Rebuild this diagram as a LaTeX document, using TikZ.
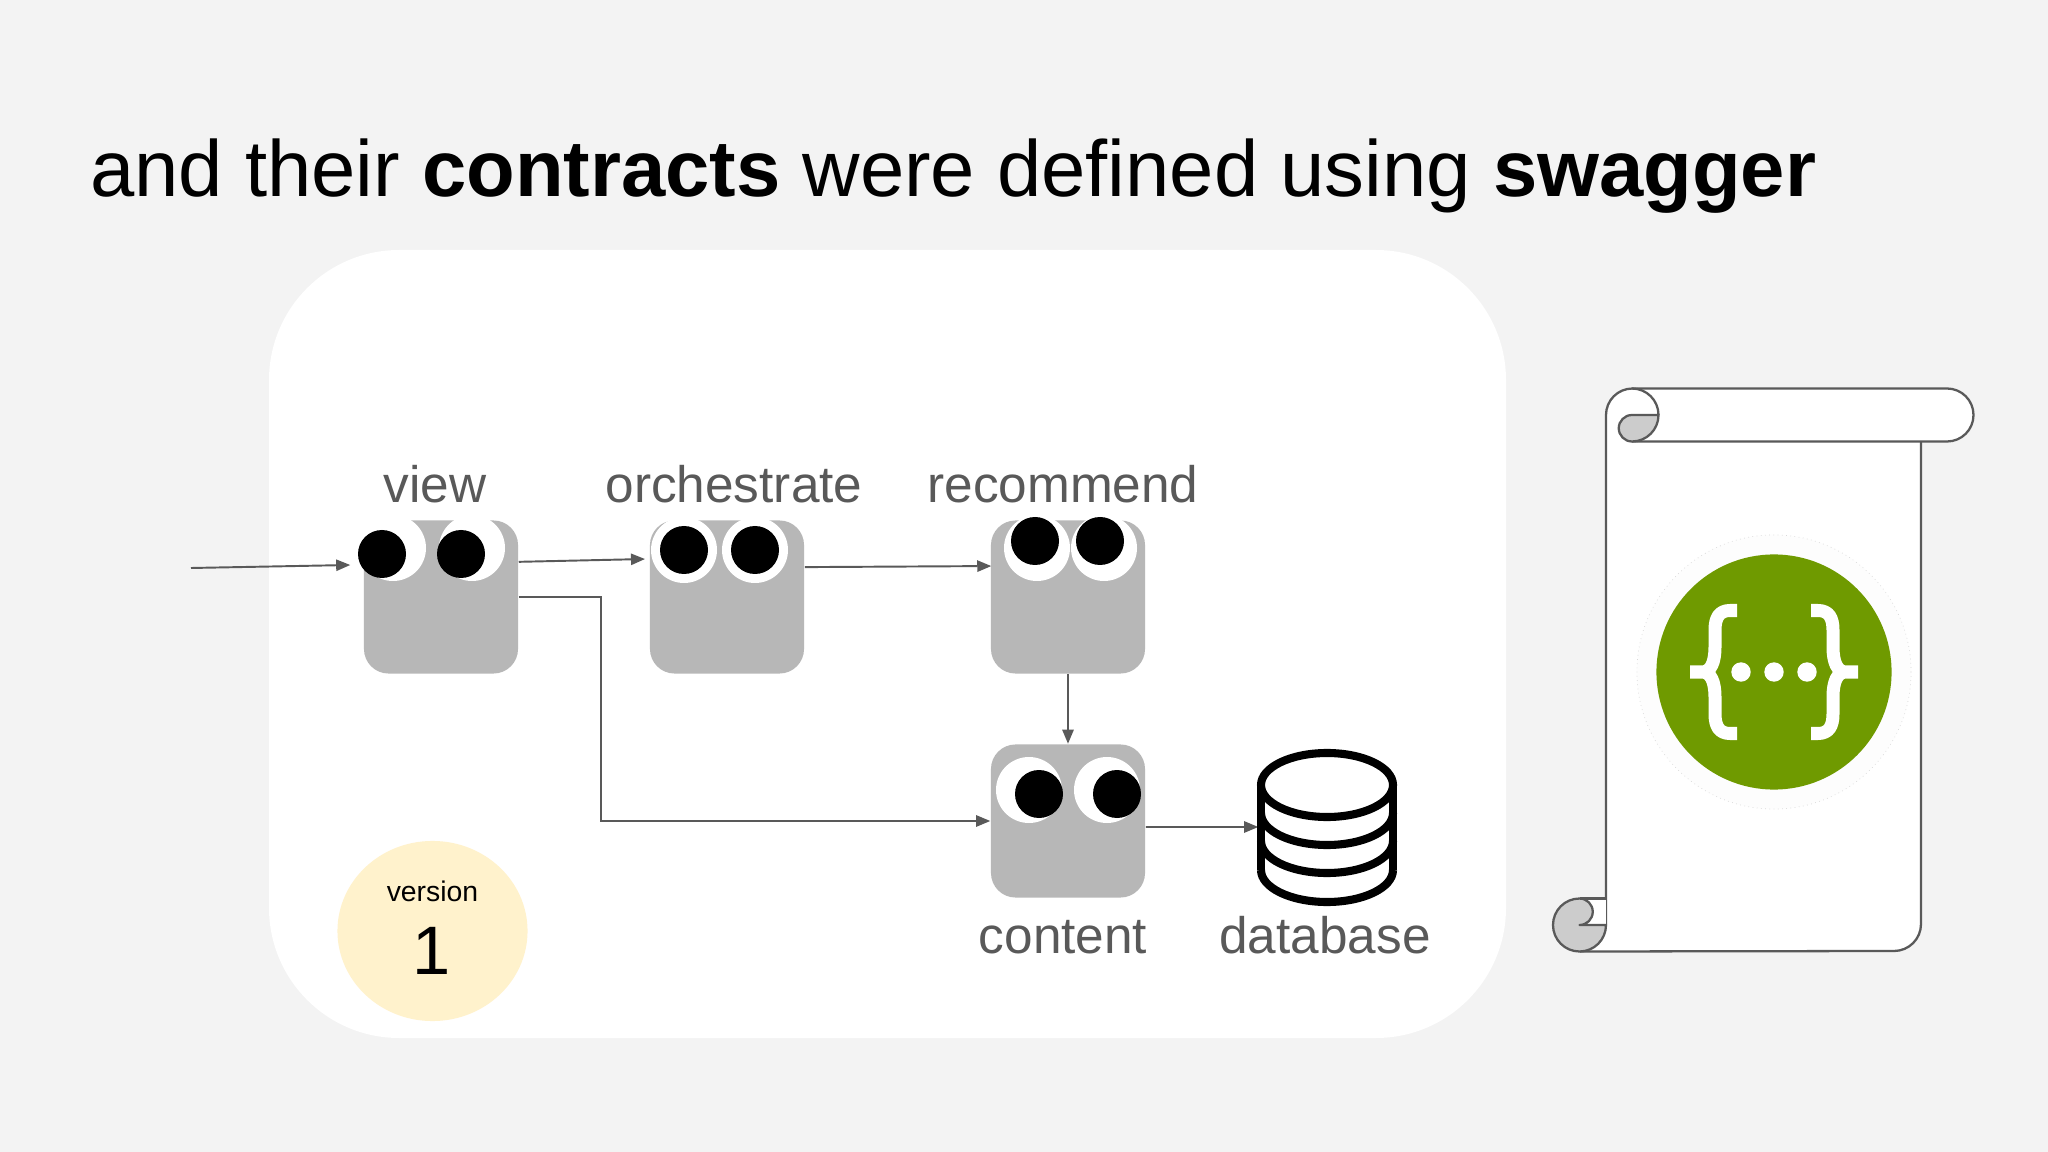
\documentclass[tikz,border=0pt]{standalone}
\usepackage{fontspec}
\setmainfont{Liberation Sans}
\usetikzlibrary{arrows.meta, shapes.geometric}
\definecolor{pagegray}{HTML}{F3F3F3}
\definecolor{boxgray}{HTML}{B7B7B7}
\definecolor{linegray}{HTML}{595959}
\definecolor{curlgray}{HTML}{CCCCCC}
\definecolor{versionyellow}{HTML}{FFF2CC}
\definecolor{logogreen}{HTML}{6F9A00}
\definecolor{logoring}{HTML}{FDFDFD}

\begin{document}
\begin{tikzpicture}[x=0.01cm, y=-0.01cm,
    service/.style = {rectangle, fill=boxgray, rounded corners=7pt, minimum width=1.54cm, minimum height=1.53cm, inner sep=0pt},
    caption/.style = {anchor=base, inner sep=0pt, text=linegray, font=\fontsize{14.6pt}{16pt}\selectfont},
    link/.style = {draw=linegray, line width=0.55pt, -{Triangle[length=4pt,width=3.2pt]}},
    scrollline/.style = {draw=linegray, line width=0.65pt, line join=round},
    dbline/.style = {draw=black, line width=2.3pt},
    brace/.style = {draw=white, line width=3.7pt, line join=bevel}
  ]
  \fill[pagegray] (0,0) rectangle (2048,1152);
  \useasboundingbox (0,0) rectangle (2048,1152);

  \node (title) [anchor=base west, inner sep=0pt, font=\fontsize{22.64pt}{26pt}\selectfont] at (89.5,197)
    {and their \textbf{contracts} were defined using \textbf{swagger}};

  \fill[white, rounded corners=37pt] (269,250) rectangle (1506,1038);

  \node (view) [service] at (441,597) {};
  \node (orchestrate) [service] at (727,597) {};
  \node (recommend) [service] at (1068,597) {};
  \node (content) [service] at (1068,821) {};
  \node (database) [minimum width=1.36cm, minimum height=1.56cm, inner sep=0pt] at (1327,827) {};

  \foreach \ex/\ey/\px/\py in {393/548/382/554, 472/548/461/554, 684/550/684/550, 755/550/755/550,
                               1037/548/1035/541, 1104/548/1100/541, 1029/790/1039/794, 1107/790/1117/794}
  {
    \fill[white] (\ex,\ey) circle[radius=33];
    \fill[black] (\px,\py) circle[radius=24];
  }

  \node (viewlabel) [caption] at (435,502) {view};
  \node (orchestratelabel) [caption] at (734,502) {orchestrate};
  \node (recommendlabel) [caption] at (1063,502) {recommend};
  \node (contentlabel) [caption] at (1063,953) {content};
  \node (databaselabel) [caption] at (1325,953) {database};

  \coordinate (entry) at (191,568);
  \draw[link] (entry) -- ([xshift=-3.7pt,yshift=9.1pt]view.west);
  \draw[link] ([yshift=10pt]view.east) -- ([xshift=-1.2pt,yshift=10.8pt]orchestrate.west);
  \draw[link] ([yshift=8.5pt]orchestrate.east) -- ([xshift=0.3pt,yshift=8.8pt]recommend.west);
  \draw[link] (recommend.south) -- (content.north);
  \draw[link] (view.east) -- ++(82,0) |- (content.west);
  \draw[link] ([yshift=-1.7pt]content.east) -- (database.west);

  \draw[dbline] (1327,785) ellipse[x radius=66, y radius=32];
  \draw[dbline] (1261,785) -- (1261,870) (1393,785) -- (1393,870);
  \foreach \dy in {813,841,870}
  {
    \draw[dbline] (1261,\dy) arc[start angle=180, end angle=0, x radius=66, y radius=32];
  }

  \node (versiondisc) [ellipse, fill=versionyellow, minimum width=1.9cm, minimum height=1.8cm, inner sep=0pt] at (432.5,931) {};
  \node (versionlabel) [anchor=base, inner sep=0pt, font=\fontsize{8.07pt}{10pt}\selectfont] at (432.5,901) {version};
  \node (versionnumber) [anchor=base, inner sep=0pt, font=\fontsize{19.5pt}{24pt}\selectfont] at (432,974) {1};

  \path[fill=white] (1606,415) arc[start angle=180, end angle=270, radius=26.5] -- (1947,388.5)
    arc[start angle=-90, end angle=90, radius=26.5] -- (1921,441.5) -- (1921,924)
    arc[start angle=0, end angle=90, radius=27] -- (1580,951.5) -- (1580,898.5) -- (1606,898.5) -- cycle;
  \draw[scrollline] (1606,925) -- (1606,415) arc[start angle=180, end angle=270, radius=26.5] -- (1947,388.5)
    arc[start angle=-90, end angle=90, radius=26.5] -- (1632,441.5);
  \draw[scrollline] (1921,441.5) -- (1921,924) arc[start angle=0, end angle=90, radius=27] -- (1580,951.5);

  \draw[scrollline, fill=curlgray] (1632,415) -- (1658.5,415) arc[start angle=0, end angle=90, radius=26.5]
    arc[start angle=90, end angle=270, radius=13.25] -- cycle;
  \draw[scrollline] (1632,388.5) arc[start angle=-90, end angle=0, radius=26.5];

  \path[fill=white] (1580,898.5) -- (1606,898.5) -- (1606,925) -- (1580,925) -- cycle;
  \draw[scrollline, fill=curlgray] (1606,925) arc[start angle=0, end angle=90, radius=26.5]
    arc[start angle=90, end angle=270, radius=26.5]
    arc[start angle=-90, end angle=90, radius=13.25] -- cycle;
  \draw[scrollline] (1580,898.5) -- (1606,898.5);

  \node (logobase) [ellipse, fill=logoring, draw=black!15, densely dotted, line width=0.2pt, minimum width=2.74cm, minimum height=2.74cm, inner sep=0pt] at (1774,672) {};
  \node (logodisc) [ellipse, fill=logogreen, minimum width=2.35cm, minimum height=2.35cm, inner sep=0pt] at (1774,672) {};
  \foreach \side in {-1,1}
  {
    \draw[brace, shift={(1774,672)}, xscale=\side] (-37,-61.5) -- (-44,-61.5)
      .. controls (-55,-61.5) and (-59,-54) .. (-59,-42) -- (-59,-25)
      .. controls (-59,-10) and (-63,0) .. (-72,0)
      .. controls (-63,0) and (-59,10) .. (-59,25) -- (-59,42)
      .. controls (-59,54) and (-55,61.5) .. (-44,61.5) -- (-37,61.5)
      (-84,0) -- (-70,0);
  }
  \foreach \dx in {-33,0,33}
  {
    \fill[white] (1774+\dx,672) circle[radius=9.7];
  }
\end{tikzpicture}
\end{document}
